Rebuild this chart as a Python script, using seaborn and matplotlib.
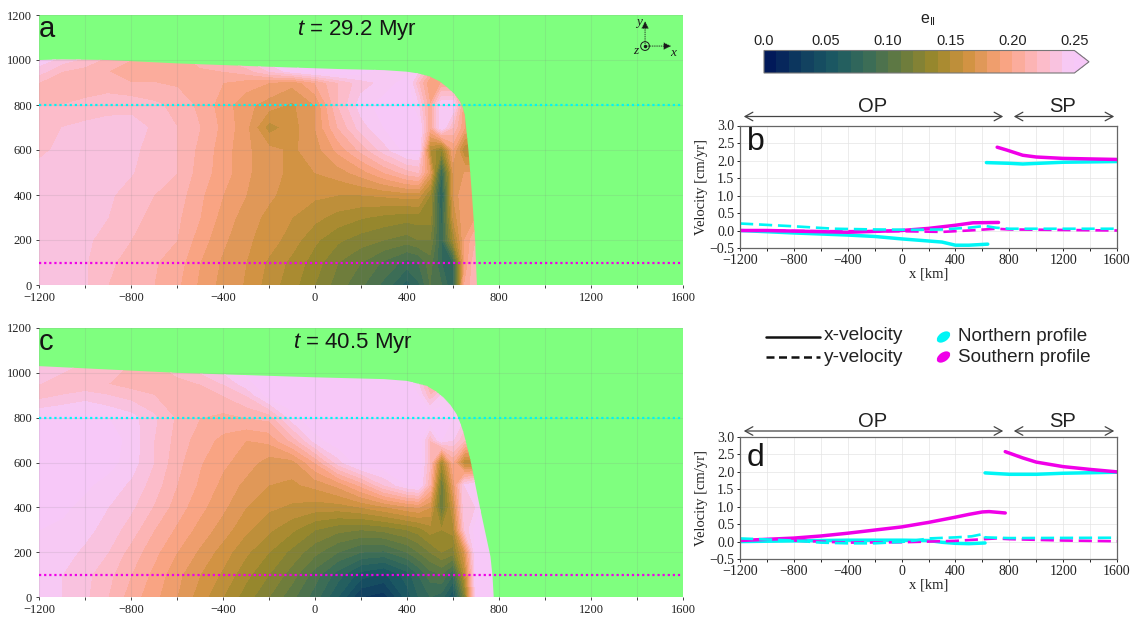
import numpy as np
import matplotlib
matplotlib.use("Agg")
import matplotlib.pyplot as plt
import seaborn as sns
from matplotlib.colors import LinearSegmentedColormap, BoundaryNorm
from matplotlib.patches import Polygon, Ellipse, FancyArrowPatch

# strain field, read by eye, in units of 0.01
x_nodes = [-1200, -1100, -1000, -900, -800, -700, -600, -500, -400, -300, -200, -100, 0, 100, 200, 300, 400,
           450, 500, 550, 600, 650, 700, 750, 800]
y_nodes = [0, 100, 200, 300, 400, 500, 600, 700, 800, 900, 950, 1050]

strain_a = [
    [23.5, 23.4, 23.1, 22, 21.5, 21, 20.2, 18.8, 17.6, 16.9, 15.5, 14.4, 13, 11.5, 10.2, 8.7, 6.5, 7.8, 10, 9, 7, 20, 22, 22, 22],
    [23.5, 23.4, 23.1, 22.2, 21.6, 21.1, 20.5, 19, 17.8, 17, 15.8, 14.7, 13.5, 12, 11, 9.8, 8.6, 9, 10.5, 8, 8, 19, 22, 22, 22],
    [23.6, 23.5, 23.2, 22.6, 22, 21.4, 21, 19.5, 18.2, 17.2, 16.5, 15.5, 14.2, 13.2, 12.5, 12, 11.5, 12, 12, 8, 14, 19, 21, 21, 21],
    [23.7, 23.6, 23.4, 23, 22.3, 21.7, 21.2, 20, 18.6, 17.5, 16.7, 16, 15.3, 14.6, 14.1, 13.7, 13.4, 13.5, 13.5, 7.5, 16, 19, 19, 19, 19],
    [23.7, 23.7, 23.5, 23.2, 22.5, 22, 21.5, 20.2, 19, 18, 17.2, 16.5, 16.2, 16, 16, 16.2, 16.5, 16.5, 14, 6.5, 17, 19, 19, 19, 19],
    [23.7, 23.7, 23.7, 23.4, 23.1, 22.3, 22, 20.5, 19.5, 18.2, 17.3, 16.8, 17, 17.5, 18.5, 20, 21.5, 22, 18, 8, 17, 18, 18, 18, 18],
    [22.5, 23.5, 23.7, 23.7, 23.3, 22.5, 22, 20.7, 19.5, 18.2, 17.3, 16.8, 17.5, 19.3, 21.3, 23.5, 25.5, 25.5, 15, 13, 19, 15, 15, 15, 15],
    [22.2, 23, 23.3, 23.5, 23.5, 22.8, 22, 21, 19.7, 18.3, 15.5, 16.5, 18, 21, 23.5, 25, 25.5, 25.5, 20, 25, 22, 19, 19, 19, 19],
    [22, 22, 22.2, 22.5, 22.6, 22.2, 21.7, 20.7, 19.5, 18.3, 17.5, 16.8, 18, 22, 24.5, 25.5, 26, 24, 20, 25, 25, 19, 19, 19, 19],
    [22, 21.8, 21.5, 21.5, 21, 21, 20.8, 20.5, 20, 19.5, 19, 18.3, 20, 22, 23.5, 24.3, 25.5, 22, 19, 20, 20, 19, 19, 19, 19],
    [23.5, 22, 21.5, 21, 20.5, 20.5, 20.5, 20.8, 21, 21.5, 23, 24.5, 25.5, 26, 25.5, 24.5, 24.5, 24, 21, 19, 19, 19, 19, 19, 19],
    [25.5, 25, 24, 22.5, 21.5, 21, 21, 22, 23, 24.5, 26, 26, 26, 26, 26, 26, 26, 26, 26, 26, 26, 26, 26, 26, 26],
]

strain_c = [
    [24.3, 24, 23.2, 22, 20.5, 19.3, 18, 16.5, 15, 13.5, 12, 10.3, 8.5, 6, 3, 2.5, 5.5, 7, 8, 7.5, 5, 12, 25, 25.5, 26],
    [24.5, 24, 23.3, 22.3, 21, 19.7, 18.3, 17, 15.8, 14.3, 13, 11.5, 9.5, 7.5, 5.5, 4.8, 6.5, 8, 9.5, 10, 8, 15, 25, 26, 26],
    [24.8, 24.4, 23.8, 23, 21.6, 20.3, 19, 17.8, 16.5, 15.2, 14, 12.7, 11.3, 10, 9, 8.8, 10, 11, 12, 13, 12.5, 17, 25.5, 26, 26],
    [25, 24.8, 24.3, 23.6, 22.5, 21, 19.8, 18.6, 17.5, 16.2, 15.2, 14.2, 13, 12.3, 12, 12.3, 13, 13.5, 14.5, 14, 14.5, 23, 25.5, 26, 26],
    [25.5, 25.2, 24.7, 24, 23.2, 21.9, 20.5, 19.3, 18.2, 17, 16.2, 15.8, 15.5, 15.5, 16, 16.8, 17.7, 18, 17, 11, 16, 24, 24, 26, 26],
    [25.7, 25.5, 25.2, 24.6, 23.8, 22.5, 21, 19.8, 18.7, 17.7, 17, 16.8, 17.3, 18.3, 20.3, 23, 25, 25.5, 21, 11, 18, 24, 25, 25, 25],
    [25.7, 25.7, 25.7, 25.4, 24.5, 23, 21.3, 20.1, 19.2, 18.5, 17.5, 17.5, 20, 23.5, 25.8, 26, 26, 26, 22, 14, 20, 15, 15, 15, 15],
    [25.6, 25.7, 25.8, 25.6, 24.6, 23, 21.6, 20.5, 19.7, 19, 19.3, 21.3, 24.5, 25.8, 26, 26, 26, 26, 22, 25, 24, 22, 22, 22, 22],
    [25, 25.2, 25.3, 25, 24.4, 23.2, 21.8, 21, 20.7, 21, 21.3, 24.5, 26, 26, 26, 26, 26, 26, 26, 26, 25, 24, 24, 24, 24],
    [22.5, 23, 23.5, 23, 22.5, 22, 21.5, 22, 22, 23, 25.5, 26, 26, 26, 26, 26, 26, 25, 22, 24, 23, 23, 23, 23, 23],
    [23, 22.5, 22, 22, 21.5, 21.5, 21.5, 22, 23, 24.5, 25.8, 26, 26, 26, 26, 26, 25.5, 24, 21, 21, 24, 24, 24, 24, 24],
    [24, 23.5, 23, 22.5, 22, 22, 23, 24, 25, 26, 26, 26, 26, 26, 26, 26, 26, 26, 26, 26, 26, 26, 26, 26, 26],
]

# outline of the plate: top surface then right edge
outline_a_x = [-1200, -1100, -900, -600, -200, 100, 300, 400, 450, 500, 540, 572, 605, 631, 645, 652, 660, 667, 682, 696, 704]
outline_a_y = [1000, 1003, 1000, 985, 970, 960, 955, 948, 940, 926, 906, 881, 850, 815, 780, 748, 670, 600, 407, 200, 0]
outline_c_x = [-1200, -1000, -600, -300, 0, 300, 400, 485, 525, 558, 590, 616, 632, 646, 675, 719, 763, 772, 777]
outline_c_y = [1030, 1020, 1000, 990, 980, 972, 964, 942, 918, 890, 855, 815, 775, 733, 613, 390, 180, 90, 0]

# velocity profiles, panel b
b_south_x_op = ([-1200, -1000, -400, 0, 200, 400, 530, 720], [0.0, 0.0, -0.05, 0.0, 0.06, 0.15, 0.22, 0.23])
b_south_x_sp = ([710, 780, 900, 1000, 1200, 1600], [2.38, 2.3, 2.15, 2.1, 2.06, 2.03])
b_north_x_op = ([-1200, -800, -400, -200, 0, 200, 300, 400, 500, 640], [0.0, -0.07, -0.13, -0.17, -0.24, -0.3, -0.33, -0.42, -0.42, -0.39])
b_north_x_sp = ([630, 800, 900, 1200, 1600], [1.94, 1.92, 1.9, 1.95, 1.97])
b_north_y = ([-1200, -800, -500, -200, 100, 300, 500, 620, 700, 800, 1600], [0.2, 0.12, 0.05, 0.03, 0.02, 0.03, 0.08, 0.13, 0.08, 0.05, 0.05])
b_south_y = ([-1100, -600, 0, 300, 500, 700, 800, 1600], [0.0, -0.02, -0.02, -0.04, 0.0, 0.05, 0.03, 0.0])

# velocity profiles, panel d
d_south_x_op = ([-1200, -800, -600, -400, -200, 0, 200, 400, 500, 600, 650, 770], [0.03, 0.1, 0.16, 0.24, 0.33, 0.42, 0.55, 0.7, 0.78, 0.85, 0.86, 0.82])
d_south_x_sp = ([770, 900, 1000, 1200, 1400, 1600], [2.58, 2.4, 2.28, 2.15, 2.07, 2.0])
d_north_x_op = ([-1200, -800, -400, 0, 200, 300, 400, 500, 620], [0.0, 0.02, 0.04, 0.04, 0.03, -0.02, -0.05, -0.06, -0.04])
d_north_x_sp = ([620, 800, 1000, 1200, 1600], [1.97, 1.93, 1.93, 1.96, 1.99])
d_north_y = ([-1200, -800, -600, -400, -200, 0, 100, 200, 400, 520, 610, 620, 800, 1600], [0.09, 0.03, -0.03, -0.05, -0.05, -0.01, 0.03, 0.09, 0.12, 0.15, 0.22, 0.12, 0.1, 0.11])
d_south_y = ([-800, -400, 0, 400, 700, 800, 1200, 1600], [0.03, -0.03, -0.02, 0.02, 0.09, 0.07, 0.03, 0.01])

cbar_ticks = [0.0, 0.05, 0.10, 0.15, 0.20, 0.25]
cbar_labels = ['0.0', '0.05', '0.10', '0.15', '0.20', '0.25']

W, H = 1135, 619
CYAN = '#00f5f5'
MAGENTA = '#f000e8'
GREEN = '#7fff7f'
DARK = '#222222'
SERIF = 'Liberation Serif'
SANS = 'Liberation Sans'

sns.set_theme(style='ticks')
plt.rcParams['font.family'] = [SANS, 'DejaVu Sans']
plt.rcParams['mathtext.fontset'] = 'custom'
plt.rcParams['mathtext.rm'] = SANS
plt.rcParams['mathtext.it'] = SANS + ':italic'

fig = plt.figure(figsize=(W / 100, H / 100), dpi=100)


def px_axes(left, top, right, bottom):
    return fig.add_axes([left / W, 1 - bottom / H, (right - left) / W, (bottom - top) / H])


cmap = LinearSegmentedColormap.from_list('batlow_like', ['#011959', '#103f60', '#1c5a62', '#3c6d56', '#687b3e',
                                                         '#9d892b', '#d29343', '#f8a17b', '#fdb7bc', '#f7c9f4']).resampled(25)
cmap.set_over('#f7c8f8')
levels = np.arange(0, 0.2501, 0.01)
norm = BoundaryNorm(levels, cmap.N)


def strain_panel(box, field, out_x, out_y, letter, title, title_x):
    ax = px_axes(*box)
    ax.set_facecolor(GREEN)
    cs = ax.contourf(x_nodes, y_nodes, np.array(field) / 100, levels=levels, cmap=cmap, norm=norm, extend='max')
    # cut the field along the plate outline
    corners = list(zip(out_x, out_y)) + [(-1200, 0)]
    clip = Polygon(corners, closed=True, transform=ax.transData, fc='none', ec='none')
    ax.add_patch(clip)
    cs.set_clip_path(clip)
    ax.set_xlim(-1200, 1600)
    ax.set_ylim(0, 1200)
    ax.set_xticks(range(-1200, 1601, 400))
    ax.set_xticks(range(-1200, 1601, 200), minor=True)
    ax.set_yticks(range(0, 1201, 200))
    ax.set_xticklabels(['\u22121200', '\u2212800', '\u2212400', '0', '400', '800', '1200', '1600'])
    ax.tick_params(which='both', direction='out', labelsize=9, length=2.5, width=0.6, pad=2.5, colors=DARK)
    for lab in ax.get_xticklabels() + ax.get_yticklabels():
        lab.set_family(SERIF)
    ax.grid(which='both', color='#808080', alpha=0.14, lw=0.8)
    ax.set_axisbelow(False)
    for s in ax.spines.values():
        s.set_visible(False)
    ax.axhline(800, color=CYAN, ls=(0, (1, 1.3)), lw=1.6, zorder=4)
    ax.axhline(100, color=MAGENTA, ls=(0, (1, 1.3)), lw=1.6, zorder=4)
    ax.text(0.0, 1.0, letter, transform=ax.transAxes, ha='left', va='top', fontsize=21, color='#151515')
    ax.text(title_x, 0.99, title, transform=ax.transAxes, ha='center', va='top', fontsize=16, color='#151515')
    return ax


ax_a = strain_panel((39, 15, 683, 285), strain_a, outline_a_x, outline_a_y, 'a', r'$\mathit{t}$ = 29.2 Myr', 0.494)
ax_c = strain_panel((39, 328, 683, 597), strain_c, outline_c_x, outline_c_y, 'c', r'$\mathit{t}$ = 40.5 Myr', 0.488)

# small axes triad in panel a
ax_a.annotate('', xy=(1435, 1185), xytext=(1435, 1060), arrowprops=dict(arrowstyle='-|>', color='k', lw=0.6, ls=':', mutation_scale=11), zorder=5)
ax_a.annotate('', xy=(1560, 1062), xytext=(1435, 1062), arrowprops=dict(arrowstyle='-|>', color='k', lw=0.6, ls=':', mutation_scale=11), zorder=5)
ax_a.add_patch(Ellipse((1435, 1062), 38, 38 * (1200 / 270) / (2800 / 644), fc='none', ec='k', lw=0.7, zorder=6))
ax_a.plot([1435], [1062], 'o', ms=1.5, color='k', zorder=6)
for lab, lx, ly in [('y', 1410, 1170), ('z', 1395, 1040), ('x', 1555, 1030)]:
    ax_a.text(lx, ly, lab, fontsize=9.5, family=SERIF, style='italic', ha='center', va='center', color='k', zorder=6)


def velocity_panel(box, letter, letter_y, north_x, south_x, north_y, south_y):
    ax = px_axes(*box)
    for seg in north_x:
        sns.lineplot(x=seg[0], y=seg[1], color=CYAN, lw=2.5, errorbar=None, sort=False, ax=ax)
    for seg in south_x:
        sns.lineplot(x=seg[0], y=seg[1], color=MAGENTA, lw=2.5, errorbar=None, sort=False, ax=ax)
    sns.lineplot(x=south_y[0], y=south_y[1], color=MAGENTA, lw=1.9, errorbar=None, sort=False, ax=ax, linestyle=(0, (5, 2.2)))
    sns.lineplot(x=north_y[0], y=north_y[1], color=CYAN, lw=1.9, errorbar=None, sort=False, ax=ax, linestyle=(0, (5, 2.2)))
    ax.set_xlim(-1200, 1600)
    ax.set_ylim(-0.5, 3.0)
    ax.set_xticks(range(-1200, 1601, 400))
    ax.set_xticks(range(-1200, 1601, 200), minor=True)
    ax.set_yticks(np.arange(-0.5, 3.01, 0.5))
    ax.set_xticklabels(['\u22121200', '\u2212800', '\u2212400', '0', '400', '800', '1200', '1600'])
    ax.set_yticklabels(['\u22120.5', '0.0', '0.5', '1.0', '1.5', '2.0', '2.5', '3.0'])
    ax.tick_params(which='both', direction='out', labelsize=10, length=2.5, width=0.7, pad=1.5, colors=DARK)
    for lab in ax.get_xticklabels() + ax.get_yticklabels():
        lab.set_family(SERIF)
    ax.grid(which='both', color='#e4e4e4', alpha=0.7, lw=0.7)
    ax.set_axisbelow(True)
    for s in ax.spines.values():
        s.set_color('#666666')
        s.set_linewidth(0.9)
    ax.set_xlabel('x [km]', family=SERIF, fontsize=10.5, color=DARK, labelpad=0.5)
    ax.set_ylabel('Velocity [cm/yr]', family=SERIF, fontsize=10.5, color=DARK, labelpad=1)
    ax.text(0.018, letter_y, letter, transform=ax.transAxes, ha='left', va='top', fontsize=23, color='#151515')
    return ax


ax_b = velocity_panel((740, 125.5, 1117, 248), 'b', 0.99, [b_north_x_op, b_north_x_sp], [b_south_x_op, b_south_x_sp], b_north_y, b_south_y)
ax_d = velocity_panel((740, 437, 1117, 559), 'd', 0.95, [d_north_x_op, d_north_x_sp], [d_south_x_op, d_south_x_sp], d_north_y, d_south_y)

# colour bar
cax = px_axes(764, 50.5, 1089, 73)
sm = plt.cm.ScalarMappable(norm=norm, cmap=cmap)
cb = fig.colorbar(sm, cax=cax, orientation='horizontal', extend='max', extendfrac=0.047, spacing='proportional', drawedges=False)
cb.set_ticks(cbar_ticks)
cb.set_ticklabels(cbar_labels)
cb.ax.xaxis.set_ticks_position('top')
cb.ax.tick_params(axis='x', which='both', labelsize=10.5, length=0.5, width=0.5, pad=1, colors=DARK)
cb.ax.minorticks_off()
cb.outline.set_edgecolor('#777777')
cb.outline.set_linewidth(0.8)
fig.text(928.5 / W, 1 - 20 / H, r'e$_{\mathrm{II}}$', ha='center', va='center', fontsize=11.5, color=DARK)


def fig_arrow(x0, x1, y):
    fig.add_artist(FancyArrowPatch((x0 / W, 1 - y / H), (x1 / W, 1 - y / H), transform=fig.transFigure,
                                   arrowstyle='<->,head_length=4,head_width=2.2', lw=0.9, color='#444444', mutation_scale=1.4))


# OP / SP brackets
for arrow_y, text_y in [(116.5, 106.5), (431, 421.5)]:
    fig_arrow(741, 1006, arrow_y)
    fig_arrow(1011, 1117, arrow_y)
    fig.text(873 / W, 1 - text_y / H, 'OP', ha='center', va='center', fontsize=14.5, color='#222222')
    fig.text(1063 / W, 1 - text_y / H, 'SP', ha='center', va='center', fontsize=14.5, color='#222222')

# hand placed legend
leg = px_axes(0, 0, W, H)
leg.set_xlim(0, W)
leg.set_ylim(H, 0)
leg.axis('off')
leg.patch.set_alpha(0)
leg.plot([766, 820], [337, 337], color='#111111', lw=1.8)
leg.plot([766, 820], [357, 357], color='#111111', lw=1.8, ls=(0, (3.2, 1.8)))
leg.text(824, 336, 'x-velocity', fontsize=13.8, va='center', ha='left', color='#222222')
leg.text(824, 357, 'y-velocity', fontsize=13.8, va='center', ha='left', color='#222222')
leg.add_patch(Ellipse((943.5, 337), 15, 9, angle=-35, fc=CYAN, ec='none'))
leg.add_patch(Ellipse((943.5, 357), 15, 9, angle=-35, fc=MAGENTA, ec='none'))
leg.text(958.5, 336.5, 'Northern profile', fontsize=13.6, va='center', ha='left', color='#222222')
leg.text(958.5, 357, 'Southern profile', fontsize=13.6, va='center', ha='left', color='#222222')

fig.savefig('out.png', dpi=100)
